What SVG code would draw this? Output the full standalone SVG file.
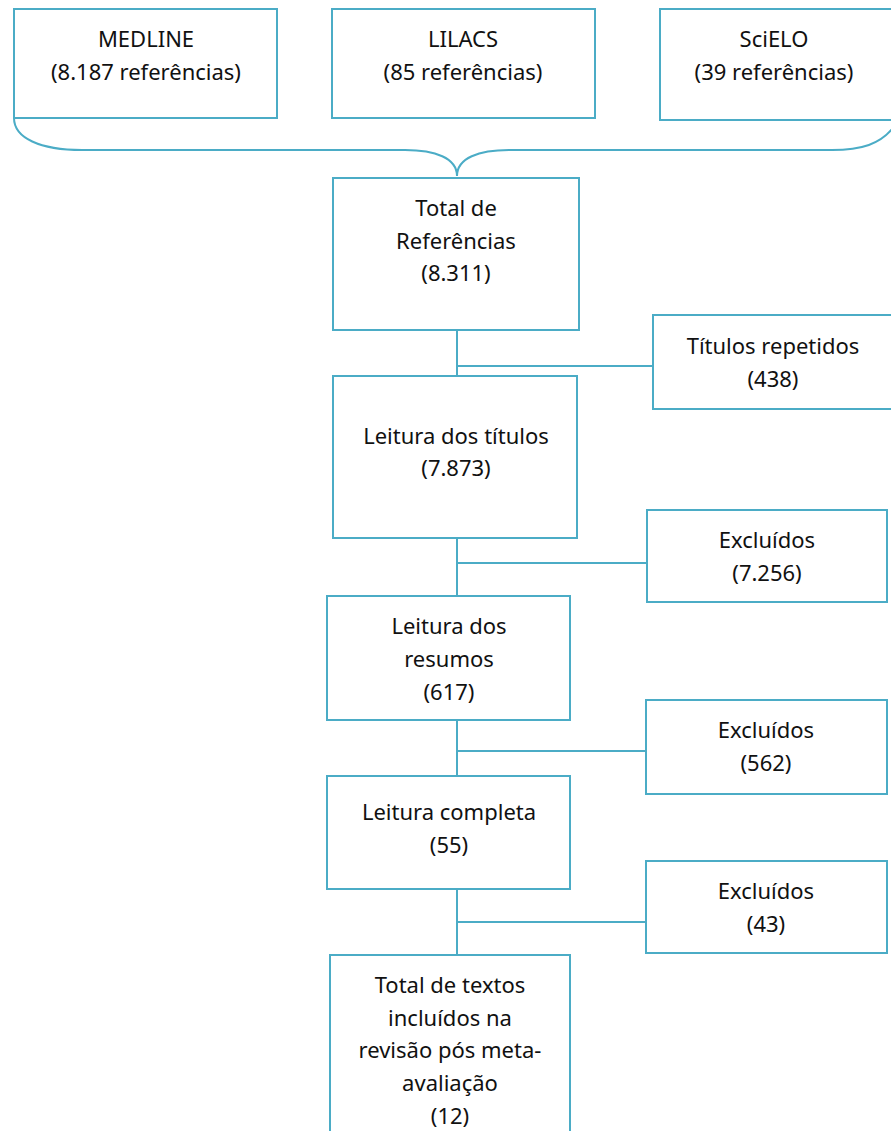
<svg xmlns="http://www.w3.org/2000/svg" width="891" height="1131" viewBox="0 0 891 1131">
<style>
.box{fill:#fff;stroke:#4bacc6;stroke-width:2}
.ln{fill:none;stroke:#4bacc6;stroke-width:2}
text{font-family:"Noto Sans","Open Sans","DejaVu Sans",sans-serif;font-size:22px;fill:#111;text-anchor:middle}
</style>
<rect width="891" height="1131" fill="#fff"/>
<g id="connectors">
<path class="ln" d="M14,118 C14,138 40,150 82,150 L405,150 C435,150 457,158 457,176 C457,158 479,150 509,150 L832,150 C862,150 880,144 893,128"/>
<path class="ln" d="M457,330 V376 M457,366 H653"/>
<path class="ln" d="M457,538 V596 M457,563 H647"/>
<path class="ln" d="M457,720 V776 M457,751 H646"/>
<path class="ln" d="M457,889 V955 M457,922 H646"/>
</g>
<g id="medline"><rect class="box" x="14" y="9" width="263" height="109"/><text x="146" y="47">MEDLINE</text><text x="146" y="80">(8.187 referências)</text></g>
<g id="lilacs"><rect class="box" x="332" y="9" width="263" height="109"/><text x="463" y="47">LILACS</text><text x="463" y="80">(85 referências)</text></g>
<g id="scielo"><rect class="box" x="660" y="9" width="240" height="111"/><text x="774" y="47">SciELO</text><text x="774" y="80">(39 referências)</text></g>
<g id="total"><rect class="box" x="333" y="178" width="246" height="152"/><text x="456" y="216">Total de</text><text x="456" y="249">Referências</text><text x="456" y="281">(8.311)</text></g>
<g id="repetidos"><rect class="box" x="653" y="315" width="245" height="94"/><text x="773" y="354">Títulos repetidos</text><text x="773" y="387">(438)</text></g>
<g id="titulos"><rect class="box" x="333" y="376" width="244" height="162"/><text x="456" y="444">Leitura dos títulos</text><text x="456" y="476">(7.873)</text></g>
<g id="excl1"><rect class="box" x="647" y="510" width="240" height="92"/><text x="767" y="548">Excluídos</text><text x="767" y="581">(7.256)</text></g>
<g id="resumos"><rect class="box" x="327" y="596" width="243" height="124"/><text x="449" y="634">Leitura dos</text><text x="449" y="667">resumos</text><text x="449" y="700">(617)</text></g>
<g id="excl2"><rect class="box" x="646" y="700" width="241" height="94"/><text x="766" y="738">Excluídos</text><text x="766" y="771">(562)</text></g>
<g id="completa"><rect class="box" x="327" y="776" width="243" height="113"/><text x="449" y="820">Leitura completa</text><text x="449" y="853">(55)</text></g>
<g id="excl3"><rect class="box" x="646" y="861" width="241" height="92"/><text x="766" y="899">Excluídos</text><text x="766" y="932">(43)</text></g>
<g id="incluidos"><rect class="box" x="330" y="955" width="240" height="190"/><text x="450" y="993">Total de textos</text><text x="450" y="1026">incluídos na</text><text x="450" y="1058">revisão pós meta-</text><text x="450" y="1091">avaliação</text><text x="450" y="1124">(12)</text></g>
</svg>
